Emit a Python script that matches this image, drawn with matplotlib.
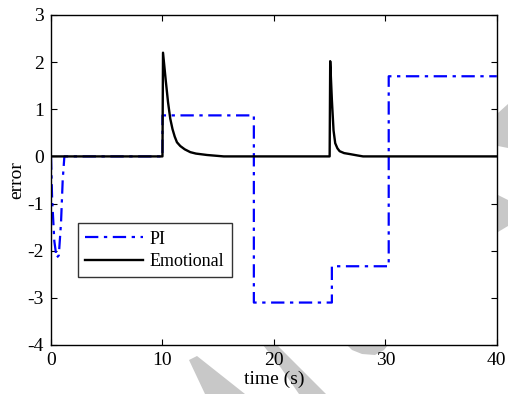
import matplotlib
matplotlib.use("Agg")
import matplotlib.pyplot as plt
from matplotlib.patches import Polygon

plt.rcParams['font.family'] = ['Liberation Serif', 'DejaVu Serif']
plt.rcParams['axes.unicode_minus'] = False

# PI controller error (step-like response)
pi_t = [0, 0.1, 0.3, 0.5, 0.7, 0.9, 1.05, 1.2, 10.0, 10.0, 18.2, 18.2, 25.2, 25.2, 30.3, 30.3, 40]
pi_e = [0, -0.9, -1.8, -2.15, -2.1, -1.4, -0.5, 0, 0, 0.87, 0.87, -3.1, -3.1, -2.33, -2.33, 1.7, 1.7]

# Emotional controller error (spikes decaying back to zero)
emo_t = [0, 10.0, 10.05, 10.3, 10.5, 10.7, 10.9, 11.1, 11.3, 11.6, 12.0, 12.5, 13.0, 14.0, 15.0, 15.5,
         25.0, 25.05, 25.2, 25.35, 25.5, 25.7, 25.9, 26.3, 26.8, 27.5, 28.0, 40]
emo_e = [0, 0, 2.2, 1.6, 1.15, 0.8, 0.58, 0.42, 0.3, 0.22, 0.15, 0.09, 0.06, 0.03, 0.01, 0,
         0, 2.02, 1.2, 0.55, 0.28, 0.17, 0.11, 0.07, 0.05, 0.02, 0, 0]

W, H = 508, 394
fig = plt.figure(figsize=(W / 100, H / 100), dpi=100)

# faint grey watermark pieces, only visible outside the axes area
wm_shapes = [
    [(189, 360), (197, 356), (245, 394), (205, 394)],
    [(263, 345), (277, 345), (300, 368), (326, 394), (299, 394), (281, 368)],
    [(347, 345), (352, 350), (362, 354), (375, 355), (384, 350), (388, 345)],
    [(498, 113), (508, 104), (508, 148), (498, 146)],
    [(498, 195), (508, 200), (508, 226), (498, 232)],
]
for pts in wm_shapes:
    fig.patches.append(Polygon([(x / W, 1 - y / H) for x, y in pts], closed=True,
                               transform=fig.transFigure, facecolor='#c8c8c8',
                               edgecolor='none', zorder=-1))

ax = fig.add_axes([0.1004, 0.1244, 0.8776, 0.8376])
ax.set_facecolor('white')

ax.plot(pi_t, pi_e, color='#0000ff', linestyle='-.', linewidth=1.6, label='PI', dashes=(6, 2.5, 1.5, 2.5))
ax.plot(emo_t, emo_e, color='black', linestyle='-', linewidth=1.7, label='Emotional')

ax.set_xlim(0, 40)
ax.set_ylim(-4, 3)
ax.set_xticks([0, 10, 20, 30, 40])
ax.set_yticks([-4, -3, -2, -1, 0, 1, 2, 3])
ax.tick_params(direction='in', top=True, right=True, length=4, width=0.8, labelsize=14, pad=5)
for s in ax.spines.values():
    s.set_linewidth(1.0)

ax.set_xlabel('time (s)', fontsize=14, labelpad=1)
ax.set_ylabel('error', fontsize=14, labelpad=2)

leg = ax.legend(loc='lower left', bbox_to_anchor=(0.06, 0.205), fontsize=13, frameon=True,
                fancybox=False, edgecolor='black', handlelength=3.2, borderpad=0.4,
                labelspacing=0.3, handletextpad=0.4, borderaxespad=0)
leg.get_frame().set_linewidth(1.0)

plt.savefig('out.png', dpi=100)
